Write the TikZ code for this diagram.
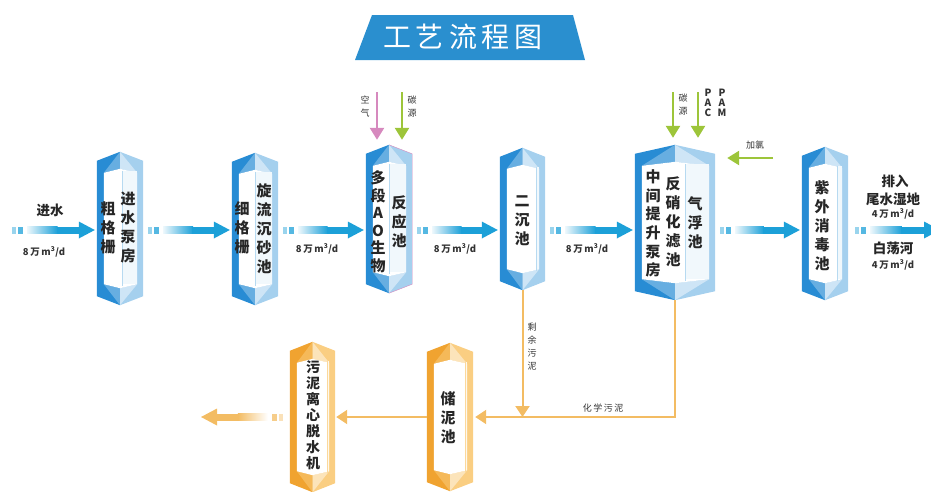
\documentclass[tikz,border=0pt]{standalone}
\usepackage{fontspec}
\setmainfont{Noto Sans CJK SC}
\usetikzlibrary{calc,arrows.meta}
\definecolor{flowblue}{RGB}{28,160,216}
\definecolor{unitdark}{RGB}{40,140,212}
\definecolor{unitlight}{RGB}{165,208,238}
\definecolor{sluddark}{RGB}{240,163,48}
\definecolor{sludlight}{RGB}{250,206,130}
\definecolor{sludgeline}{RGB}{243,188,99}
\definecolor{feedgreen}{RGB}{157,197,58}
\definecolor{pinkair}{RGB}{214,137,190}
\definecolor{titleblue}{RGB}{42,143,207}
\tikzset{
  unit/.style 2 args={minimum width=#1, minimum height=#2, inner sep=0pt},
  col/.style={align=center, inner sep=0pt, font=\fontsize{15}{19}\selectfont\bfseries, text=black!85},
  small/.style={align=center, inner sep=0pt, font=\fontsize{9}{13}\selectfont, text=black!80},
  rate/.style={inner sep=0pt, font=\fontsize{9.5}{11}\selectfont\bfseries, text=black!80},
  side/.style={inner sep=0pt, font=\fontsize{13.5}{15}\selectfont\bfseries, text=black!85},
  feed/.style={line width=2.5pt, -{Triangle[width=14pt,length=12pt]}},
  sludge/.style={draw=sludgeline, line width=2pt, -{Triangle[width=14pt,length=11pt]}},
}
% prism shaped tank drawn round a node: node, dark, light, divider offset
\newcommand{\drawunit}[4]{%
  \fill[#2] ($(#1.north west)+(0,9)$) -- (#1.north) -- (#1.south) -- ($(#1.south west)+(0,-9)$) -- cycle;
  \fill[#3] ($(#1.north east)+(0,9)$) -- (#1.north) -- (#1.south) -- ($(#1.south east)+(0,-9)$) -- cycle;
  \fill[#2!50!#3] (#1.north) -- ($(#1.north west)+(7,21)$) -- ($(#1.north)+(0,17)$) -- cycle;
  \fill[#3!55!white] (#1.north) -- ($(#1.north east)+(-6,21)$) -- ($(#1.north)+(0,17)$) -- cycle;
  \fill[#2!50!#3] (#1.south) -- ($(#1.south west)+(7,-21)$) -- ($(#1.south)+(0,-17)$) -- cycle;
  \fill[#3!55!white] (#1.south) -- ($(#1.south east)+(-6,-21)$) -- ($(#1.south)+(0,-17)$) -- cycle;
  \fill[white] ($(#1.north west)+(7,21)$) -- ($(#1.north)+(0,17)$) -- ($(#1.north east)+(-6,21)$)
    -- ($(#1.south east)+(-6,-21)$) -- ($(#1.south)+(0,-17)$) -- ($(#1.south west)+(7,-21)$) -- cycle;
  \fill[#3!15] ($(#1.north)+(#4,19)$) rectangle ($(#1.south east)+(-6,-21)$);
  \draw[#3!80, thin] ($(#1.north)+(#4,19)$) -- ($(#1.south)+(#4,-19)$);
}
% dashed-in, faded bar arrow: colour, shading, from, to
\newcommand{\flowarrow}[4]{%
  \path #3 coordinate (fa) #4 coordinate (fb);
  \fill[#1!45] ($(fa)+(0,-3.5)$) rectangle ($(fa)!4pt!(fb)+(0,3.5)$);
  \fill[#1!75] ($(fa)!6pt!(fb)+(0,-3.5)$) rectangle ($(fa)!11pt!(fb)+(0,3.5)$);
  \shade[#2] ($(fa)!15pt!(fb)+(0,-3.5)$) rectangle ($(fa)!0.55!(fb)+(0,3.5)$);
  \fill[#1] ($(fa)!0.54!(fb)+(0,-3.5)$) rectangle ($(fb)!14pt!(fa)+(0,3.5)$);
  \fill[#1] ($(fb)!16pt!(fa)+(0,-8.5)$) -- (fb) -- ($(fb)!16pt!(fa)+(0,8.5)$) -- cycle;
}
\begin{document}
\begin{tikzpicture}[x=1pt,y=-1pt]
  \useasboundingbox (0,0) rectangle (931,491);
  % title
  \fill[titleblue] (355,60) -- (372,15) -- (573,15) -- (585,60) -- cycle;
  \node[text=white, font=\fontsize{28}{30}\selectfont] (title) at (463,37) {工\hspace{5pt}艺\hspace{5pt}流\hspace{5pt}程\hspace{5pt}图};

  % tanks
  \node[unit={46pt}{153pt}] (u1) at (120,228.5) {};
  \node[unit={46pt}{152pt}] (u2) at (255,229) {};
  \node[unit={46pt}{148pt}] (u3) at (389,219) {};
  \node[unit={45pt}{142pt}] (u4) at (522.5,219) {};
  \node[unit={80pt}{155pt}] (u5) at (675,222.5) {};
  \node[unit={46pt}{153pt}] (u6) at (825,223.5) {};
  \node[unit={45pt}{150pt}] (o1) at (312.5,417) {};
  \node[unit={46pt}{148pt}] (o2) at (450,417) {};
  \drawunit{u1}{unitdark}{unitlight}{2}
  \drawunit{u2}{unitdark}{unitlight}{0}
  \drawunit{u3}{unitdark}{unitlight}{0}
  \draw[pinkair, thin] (u3.north) -- ($(u3.north east)+(0,9)$) -- ($(u3.south east)+(0,-9)$) -- (u3.south);
  \drawunit{u4}{unitdark}{unitlight}{14}
  \drawunit{u5}{unitdark}{unitlight}{10}
  \drawunit{u6}{unitdark}{unitlight}{12}
  \drawunit{o1}{sluddark}{sludlight}{15}
  \drawunit{o2}{sluddark}{sludlight}{15}

  \node[col] (t1a) at (108,228) {粗\\格\\栅};
  \node[col] (t1b) at (128,228) {进\\水\\泵\\房};
  \node[col] (t2a) at (242,228) {细\\格\\栅};
  \node[col] (t2b) at (264,229) {旋\\流\\沉\\砂\\池};
  \node[col, font=\fontsize{15}{17.5}\selectfont\bfseries] (t3a) at (378,222) {多\\段\\A\\O\\生\\物};
  \node[col] (t3b) at (399,222) {反\\应\\池};
  \node[col] (t4) at (522,221) {二\\沉\\池};
  \node[col, font=\fontsize{15}{18.6}\selectfont\bfseries] (t5a) at (653,223.5) {中\\间\\提\\升\\泵\\房};
  \node[col] (t5b) at (673,221.5) {反\\硝\\化\\滤\\池};
  \node[col] (t5c) at (695,222.5) {气\\浮\\池};
  \node[col] (t6) at (822,225.5) {紫\\外\\消\\毒\\池};
  \node[col, font=\fontsize{14}{16}\selectfont\bfseries] (t7) at (313,415) {污\\泥\\离\\心\\脱\\水\\机};
  \node[col] (t8) at (448,418) {储\\泥\\池};

  % water line
  \coordinate (flow) at (0,230);
  \coordinate (in) at (12,230);
  \coordinate (out) at (940,230);
  \flowarrow{flowblue}{left color=flowblue!8, right color=flowblue}{(in)}{($(u1.west |- flow)+(-2,0)$)}
  \flowarrow{flowblue}{left color=flowblue!8, right color=flowblue}{($(u1.east |- flow)+(5,0)$)}{($(u2.west |- flow)+(-2,0)$)}
  \flowarrow{flowblue}{left color=flowblue!8, right color=flowblue}{($(u2.east |- flow)+(5,0)$)}{($(u3.west |- flow)+(-2,0)$)}
  \flowarrow{flowblue}{left color=flowblue!8, right color=flowblue}{($(u3.east |- flow)+(5,0)$)}{($(u4.west |- flow)+(-2,0)$)}
  \flowarrow{flowblue}{left color=flowblue!8, right color=flowblue}{($(u4.east |- flow)+(5,0)$)}{($(u5.west |- flow)+(-2,0)$)}
  \flowarrow{flowblue}{left color=flowblue!8, right color=flowblue}{($(u5.east |- flow)+(5,0)$)}{($(u6.west |- flow)+(-2,0)$)}
  \flowarrow{flowblue}{left color=flowblue!8, right color=flowblue}{($(u6.east |- flow)+(7,0)$)}{(out)}

  \node[side] (inlab) at (50,210) {进水};
  \node[rate] (r1) at (44,252) {8\,万\,m\textsuperscript{3}/d};
  \node[rate] (r2) at (317,249) {8\,万\,m\textsuperscript{3}/d};
  \node[rate] (r3) at (455,249) {8\,万\,m\textsuperscript{3}/d};
  \node[rate] (r4) at (587,249) {8\,万\,m\textsuperscript{3}/d};
  \node[side] (outlab1) at (895,181) {排入};
  \node[side] (outlab2) at (893,199) {尾水湿地};
  \node[rate] (r5) at (893,214) {4\,万\,m\textsuperscript{3}/d};
  \node[side] (outlab3) at (893,248) {白荡河};
  \node[rate] (r6) at (893,265) {4\,万\,m\textsuperscript{3}/d};

  % dosing
  \coordinate (air) at (377,92);
  \coordinate (carb1) at (402,92);
  \coordinate (carb2) at (673,92);
  \coordinate (pac) at (698,92);
  \coordinate (chlor) at (773,158);
  \draw[feed, pinkair] (air) -- (air |- u3.north) [shorten >=5pt];
  \draw[feed, feedgreen, shorten >=5pt] (carb1) -- (carb1 |- u3.north);
  \draw[feed, feedgreen, shorten >=7pt] (carb2) -- (carb2 |- u5.north);
  \draw[feed, feedgreen, shorten >=7pt] (pac) -- (pac |- u5.north);
  \draw[feed, feedgreen, shorten >=12pt] (chlor) -- (u5.east |- chlor);
  \node[small] (airlab) at (365,107) {空\\气};
  \node[small] (carblab1) at (412,107) {碳\\源};
  \node[small] (carblab2) at (683,105) {碳\\源};
  \node[small, font=\fontsize{10}{10}\selectfont\bfseries] (paclab) at (708,103) {P\\A\\C};
  \node[small, font=\fontsize{10}{10}\selectfont\bfseries] (pamlab) at (722,103) {P\\A\\M};
  \node[small] (chlorlab) at (755,145) {加氯};

  % sludge line
  \draw[sludge] (u4.south) -- (u4.south |- o2.east);
  \draw[sludge, shorten >=2pt] (u5.south) |- (o2.east);
  \draw[sludge, shorten >=1pt] (o2.west) -- (o1.east);
  \coordinate (cake) at (201,417);
  \flowarrow{sludgeline}{left color=sludgeline, right color=white}{($(o1.west)+(-7,0)$)}{(cake)}
  \node[small, font=\fontsize{9}{13}\selectfont] (exlab) at (532,347) {剩\\余\\污\\泥};
  \node[small] (chemlab) at (603,408) {化\,学\,污\,泥};
\end{tikzpicture}
\end{document}
